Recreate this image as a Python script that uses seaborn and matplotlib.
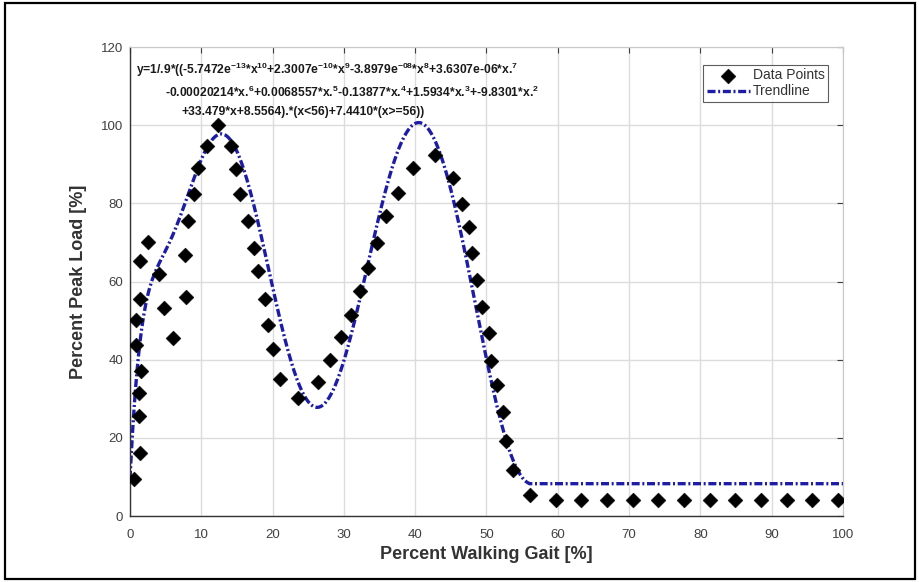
import numpy as np
import pandas as pd
import matplotlib
matplotlib.use("Agg")
import matplotlib.pyplot as plt
import seaborn as sns
from matplotlib.patches import Rectangle

# Measured load samples over the gait cycle
gait_pct = [0.5, 1.4, 1.2, 1.2, 1.5, 0.9, 0.9, 1.4, 1.4, 2.5,
            4.0, 4.7, 6.0, 7.8, 7.7, 8.2, 9.0, 9.5, 10.8, 12.3,
            14.2, 14.8, 15.4, 16.6, 17.4, 18.0, 19.0, 19.3, 20.1, 21.1,
            23.6, 26.3, 28.1, 29.6, 31.0, 32.3, 33.4, 34.6, 35.9, 37.6,
            39.7, 42.8, 45.3, 46.5, 47.5, 47.9, 48.6, 49.4, 50.4, 50.7,
            51.5, 52.3, 52.7, 53.7, 56.1, 59.7, 63.3, 66.9, 70.5, 74.1,
            77.7, 81.3, 84.9, 88.5, 92.1, 95.7, 99.3]
peak_load_pct = [9.4, 16.2, 25.6, 31.6, 37.0, 43.8, 50.1, 55.6, 65.2, 70.2,
                 62.0, 53.2, 45.6, 56.1, 66.8, 75.5, 82.5, 89.1, 94.7, 100.1,
                 94.7, 88.9, 82.3, 75.5, 68.6, 62.6, 55.6, 49.0, 42.7, 35.1,
                 30.1, 34.3, 40.0, 45.7, 51.5, 57.7, 63.5, 69.9, 76.7, 82.7,
                 89.1, 92.3, 86.6, 79.8, 73.9, 67.4, 60.5, 53.5, 46.7, 39.7,
                 33.6, 26.5, 19.3, 11.8, 5.4, 4.1, 4.1, 4.1, 4.1, 4.1,
                 4.1, 4.1, 4.1, 4.1, 4.1, 4.1, 4.1]

# Fitted polynomial (highest power first) and the constant tail beyond 56 %
poly_coeffs = [-5.7472e-13, 2.3007e-10, -3.8979e-08, 3.6307e-06, -0.00020214,
               0.0068557, -0.13877, 1.5934, -9.8301, 33.479, 8.5564]
tail_value = 7.4410
cutoff = 56
scale = 1 / 0.9

x_ticks = [0, 10, 20, 30, 40, 50, 60, 70, 80, 90, 100]
y_ticks = [0, 20, 40, 60, 80, 100, 120]


def sup(s):
    return r"$^{\mathbf{" + s + "}}$"


eq_lines = [
    "y=1/.9*((-5.7472e" + sup("-13") + "*x" + sup("10") + "+2.3007e" + sup("-10")
    + "*x" + sup("9") + "-3.8979e" + sup("-08") + "*x" + sup("8")
    + "+3.6307e-06*x." + sup("7"),
    "-0.00020214*x." + sup("6") + "+0.0068557*x." + sup("5") + "-0.13877*x."
    + sup("4") + "+1.5934*x." + sup("3") + "+-9.8301*x." + sup("2"),
    "+33.479*x+8.5564).*(x<56)+7.4410*(x>=56))",
]

sns.set_theme(style="white")
plt.rcParams["font.family"] = ["Liberation Sans", "DejaVu Sans"]
plt.rcParams["mathtext.fontset"] = "custom"
plt.rcParams["mathtext.rm"] = "Liberation Sans"
plt.rcParams["mathtext.bf"] = "Liberation Sans:bold"
plt.rcParams["mathtext.it"] = "Liberation Sans:italic"

points = pd.DataFrame({"gait": gait_pct, "load": peak_load_pct})
x_fit = np.linspace(0, 100, 1001)
y_fit = scale * np.where(x_fit < cutoff, np.polyval(poly_coeffs, x_fit), tail_value)
trend = pd.DataFrame({"gait": x_fit, "load": y_fit})

fig = plt.figure(figsize=(9.2, 5.82), dpi=100)
ax = fig.add_axes([0.1413, 0.1134, 0.775, 0.8058])

sns.lineplot(data=trend, x="gait", y="load", ax=ax, color="#1c1ca6",
             linewidth=2.4, linestyle=(0, (2.4, 0.8, 0.6, 0.8)),
             label="Trendline", zorder=2)
sns.scatterplot(data=points, x="gait", y="load", ax=ax, marker="D", s=58,
                color="black", edgecolor="black", linewidth=0.3,
                label="Data Points", zorder=3)

ax.set_xlim(0, 100)
ax.set_ylim(0, 120)
ax.set_xticks(x_ticks)
ax.set_yticks(y_ticks)
ax.grid(True, color="#dcdcdc", linewidth=1.0)
ax.set_axisbelow(True)
ax.tick_params(axis="both", labelsize=9.5, colors="#404040", direction="in",
               length=4, width=0.8, top=True, right=True)
ax.tick_params(axis="x", pad=9)
ax.tick_params(axis="y", pad=5)
for side in ["left", "bottom"]:
    ax.spines[side].set_color("#333333")
    ax.spines[side].set_linewidth(1.0)
for side in ["top", "right"]:
    ax.spines[side].set_color("#c8c8c8")
    ax.spines[side].set_linewidth(0.8)

ax.set_xlabel("Percent Walking Gait [%]", fontsize=13, fontweight="bold",
              color="#333333", labelpad=4)
ax.set_ylabel("Percent Peak Load [%]", fontsize=13, fontweight="bold",
              color="#333333", labelpad=10)

# Fitted equation, three indented lines
indents = [0.009, 0.049, 0.072]
tops = [0.952, 0.904, 0.862]
for txt, dx, ty in zip(eq_lines, indents, tops):
    ax.text(dx, ty, txt, transform=ax.transAxes, fontsize=8.7,
            fontweight="bold", color="#1a1a1a", va="center", ha="left")

handles, labels = ax.get_legend_handles_labels()
order = [labels.index("Data Points"), labels.index("Trendline")]
leg = ax.legend([handles[i] for i in order], [labels[i] for i in order],
                loc="upper right", bbox_to_anchor=(0.979, 0.962),
                fontsize=10, frameon=True, fancybox=False, borderpad=0.25,
                labelspacing=0.15, handlelength=3.1, handletextpad=0.2,
                borderaxespad=0.0)
leg.get_frame().set_edgecolor("#333333")
leg.get_frame().set_linewidth(0.8)
for t in leg.get_texts():
    t.set_color("#333333")

# Outer frame around the figure
fig.patches.append(Rectangle((0.005, 0.006), 0.99, 0.988, transform=fig.transFigure,
                             fill=False, edgecolor="black", linewidth=1.6))

fig.savefig("out.png", dpi=100, facecolor="white")
